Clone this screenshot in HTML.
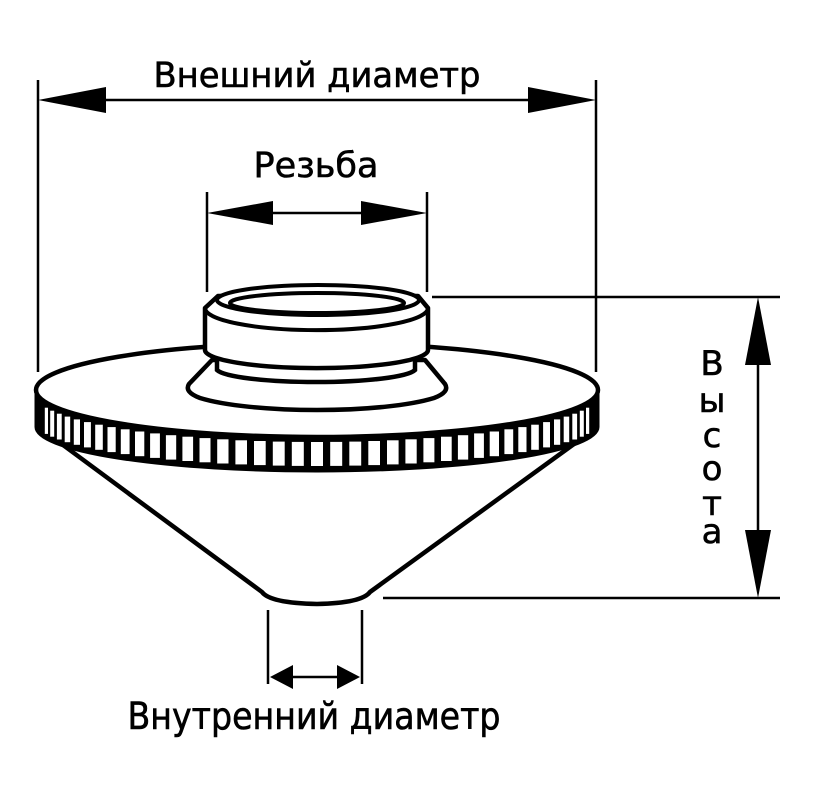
<!DOCTYPE html>
<html><head><meta charset="utf-8"><style>
html,body{margin:0;padding:0;background:#fff;}
svg{display:block;}
text{font-family:"DejaVu Sans","Liberation Sans",sans-serif;fill:#000;stroke:#000;stroke-width:0.6;}
</style></head><body>
<svg width="818" height="801" viewBox="0 0 818 801" xmlns="http://www.w3.org/2000/svg">
<g stroke="#000" fill="none" stroke-width="2.5">
  <line x1="38" y1="80" x2="38" y2="372"/>
  <line x1="596" y1="80" x2="596" y2="372"/>
  <line x1="60" y1="100" x2="575" y2="100"/>
  <line x1="207" y1="192" x2="207" y2="292"/>
  <line x1="427" y1="192" x2="427" y2="292"/>
  <line x1="230" y1="213" x2="405" y2="213"/>
  <line x1="432" y1="297" x2="780" y2="297"/>
  <line x1="383" y1="598" x2="780" y2="598"/>
  <line x1="758" y1="320" x2="758" y2="575"/>
  <line x1="268" y1="610" x2="268" y2="684"/>
  <line x1="362" y1="610" x2="362" y2="684"/>
  <line x1="285" y1="677" x2="345" y2="677"/>
</g>
<g fill="#000">
  <polygon points="38,100 106,87 106,113"/>
  <polygon points="596,100 528,87 528,113"/>
  <polygon points="207,213 273,201 273,225"/>
  <polygon points="427,213 361,201 361,225"/>
  <polygon points="758,297 745,365 771,365"/>
  <polygon points="758,598 745,530 771,530"/>
  <polygon points="270,677 293,665 293,689"/>
  <polygon points="360,677 337,665 337,689"/>
</g>
<path d="M40,428 L262,592 Q270,603 317,604 Q362,603 370,592 L596,428 Z" fill="#fff" stroke="#000" stroke-width="4.5" stroke-linejoin="round"/>
<path d="M36,390 A281,47 0 0 0 598,390 L598,427 A281,44 0 0 1 36,427 Z" fill="#000" stroke="#000" stroke-width="3"/>
<g id="teeth" fill="#fff"></g>
<ellipse cx="317" cy="390" rx="281" ry="47" fill="#fff" stroke="#000" stroke-width="4.5"/>
<path d="M212,360 L189,384 Q184,392 200,398 A135,24 0 0 0 434,398 Q450,392 445,384 L425,360 Z" fill="#fff" stroke="#000" stroke-width="4.5" stroke-linejoin="round"/>
<path d="M217,355 L217,370 A100,14 0 0 0 415,370 L415,355 Z" fill="#fff" stroke="#000" stroke-width="4.5"/>
<path d="M205,308 L218,296 L418,296 L428,308 L428,350 A111,18 0 0 1 205,350 Z" fill="#fff" stroke="#000" stroke-width="4.5" stroke-linejoin="round"/>
<path d="M205,308 A111,22 0 0 0 428,308" fill="none" stroke="#000" stroke-width="4"/>
<ellipse cx="318" cy="300" rx="101" ry="15" fill="#fff" stroke="#000" stroke-width="4"/>
<ellipse cx="317" cy="303" rx="87" ry="10" fill="#fff" stroke="#000" stroke-width="4"/>
<text x="317" y="87" font-size="35" text-anchor="middle" textLength="327" lengthAdjust="spacingAndGlyphs">Внешний диаметр</text>
<text x="316" y="177" font-size="35" text-anchor="middle" textLength="125" lengthAdjust="spacingAndGlyphs">Резьба</text>
<text x="314" y="729" font-size="37" text-anchor="middle" textLength="373" lengthAdjust="spacingAndGlyphs">Внутренний диаметр</text>
<g font-size="34" text-anchor="middle">
  <text x="712" y="375">В</text>
  <text x="712" y="412">ы</text>
  <text x="712" y="447">с</text>
  <text x="712" y="480">о</text>
  <text x="712" y="515">т</text>
  <text x="712" y="543">а</text>
</g>
</svg>
<script>
(function(){
  var g=document.getElementById('teeth');var n=46;var s='';
  for(var i=1;i<n;i++){
    var t=Math.PI*i/n;var x=317-281*Math.cos(t);var sn=Math.sin(t);
    var w=12*sn; if(w<2.5)continue;
    var y1=390+47*sn+5, y2=427+44*sn-5;
    s+='<rect x="'+(x-w/2).toFixed(1)+'" y="'+y1.toFixed(1)+'" width="'+w.toFixed(1)+'" height="'+(y2-y1).toFixed(1)+'"/>';
  }
  g.innerHTML=s;
})();
</script>
</body></html>
